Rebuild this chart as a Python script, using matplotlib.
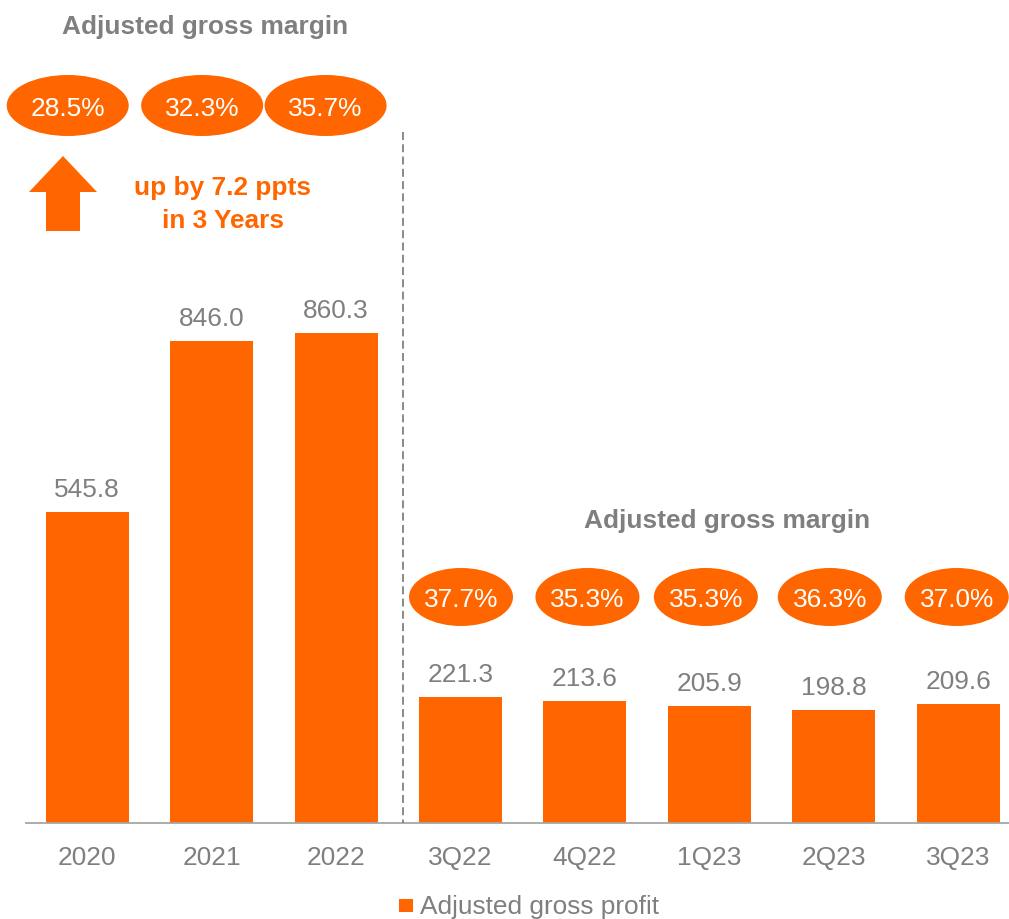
import matplotlib
matplotlib.use("Agg")
import matplotlib.pyplot as plt
from matplotlib.patches import Ellipse, Polygon, Rectangle

plt.rcParams['font.family'] = ['Liberation Sans', 'DejaVu Sans']

# ---- data ----
periods = ["2020", "2021", "2022", "3Q22", "4Q22", "1Q23", "2Q23", "3Q23"]
gross_profit = [545.8, 846.0, 860.3, 221.3, 213.6, 205.9, 198.8, 209.6]
gross_margin = ["28.5%", "32.3%", "35.7%", "37.7%", "35.3%", "35.3%", "36.3%", "37.0%"]
margin_title = "Adjusted gross margin"
growth_note = ["up by 7.2 ppts", "in 3 Years"]
legend_label = "Adjusted gross profit"

# ---- style ----
ORANGE = "#FF6600"
GREY = "#7F7F7F"
AXIS_GREY = "#A6A6A6"
FS = 18.9
W, H = 1009, 920

fig = plt.figure(figsize=(W / 100, H / 100), dpi=100)

# bar axes: baseline 96 px above the bottom edge
ax = fig.add_axes([26 / W, 96 / H, 983 / W, 824 / H])
x = list(range(len(periods)))
ax.bar(x, gross_profit, width=0.667, color=ORANGE, zorder=2)
ax.set_xlim(-0.492, 7.408)
ax.set_ylim(0, 1446.4)
for side in ("top", "right", "left"):
    ax.spines[side].set_visible(False)
ax.spines["bottom"].set_color(AXIS_GREY)
ax.spines["bottom"].set_linewidth(1.3)
ax.set_yticks([])
ax.set_xticks(x)
ax.set_xticklabels(periods, fontsize=FS, color=GREY)
ax.tick_params(axis="x", length=0, pad=16)

for xi, v in zip(x, gross_profit):
    ax.annotate(f"{v:.1f}", (xi, v), xytext=(0, 11.5), textcoords="offset points",
                ha="center", va="baseline", fontsize=FS, color=GREY)

# overlay in pixel coordinates (y grows downward) for the callouts
ov = fig.add_axes([0, 0, 1, 1], zorder=5)
ov.set_xlim(0, W)
ov.set_ylim(H, 0)
ov.axis("off")
ov.patch.set_alpha(0)

fig.canvas.draw()
bar_px = [ax.transData.transform((xi, 0))[0] for xi in x]

# margin ellipses: yearly row on top, quarterly row above the quarter bars
nudge = [-19.5, -9.5, -10.5, 0.5, 2.5, -3.5, -4.0, -1.5]
for i, label in enumerate(gross_margin):
    if i < 3:
        cy, ew, eh = 106.5, 122, 61
    else:
        cy, ew, eh = 598, 104, 58
    cx = bar_px[i] + nudge[i]
    ov.add_patch(Ellipse((cx, cy), ew, eh, facecolor=ORANGE, edgecolor="none"))
    ov.text(cx, cy + 9.5, label, ha="center", va="baseline", fontsize=FS, color="white")

# section titles
ov.text(205, 34, margin_title, ha="center", va="baseline", fontsize=FS,
        fontweight="bold", color=GREY)
ov.text(727, 528, margin_title, ha="center", va="baseline", fontsize=FS,
        fontweight="bold", color=GREY)

# growth arrow and note
ov.add_patch(Polygon([(46, 232), (46, 193), (29, 193), (63, 157), (97, 193),
                      (80, 193), (80, 232)], closed=True, facecolor=ORANGE,
                     edgecolor="none"))
ov.text(222, 195, growth_note[0], ha="center", va="baseline", fontsize=FS,
        fontweight="bold", color=ORANGE)
ov.text(223, 228, growth_note[1], ha="center", va="baseline", fontsize=FS,
        fontweight="bold", color=ORANGE)

# divider between yearly and quarterly figures
ov.plot([403, 403], [133, 824], color="#808080", lw=1.3, dashes=(4.4, 2.4))

# legend
ov.add_patch(Rectangle((399, 900), 14, 13, facecolor=ORANGE, edgecolor="none"))
ov.text(420, 914, legend_label, ha="left", va="baseline", fontsize=FS, color=GREY)

fig.savefig("out.png", dpi=100)
